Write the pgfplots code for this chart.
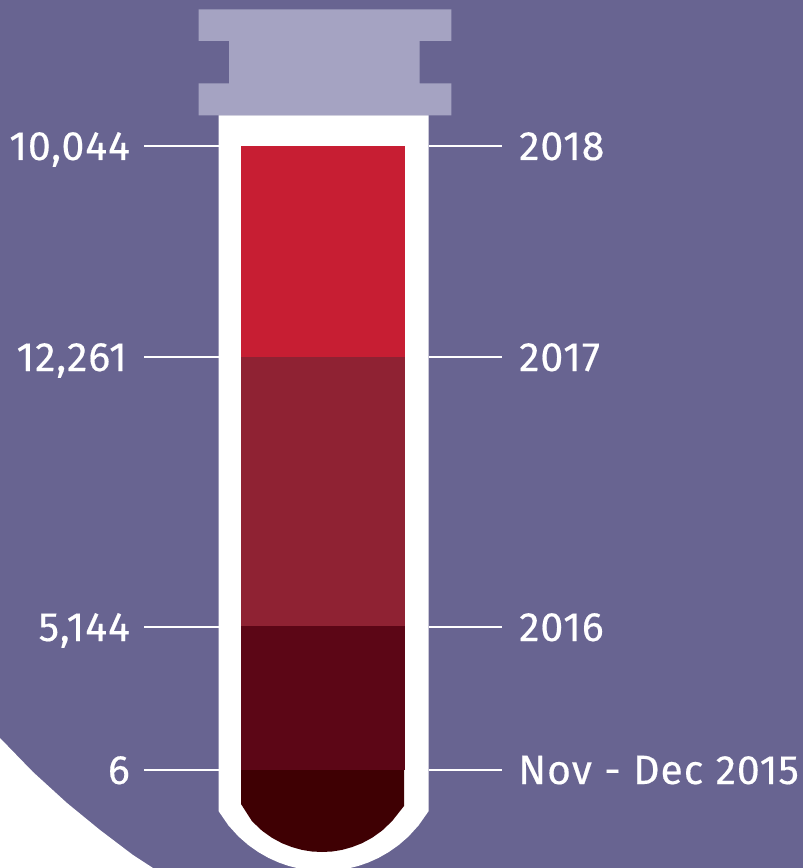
\documentclass[border=0pt]{standalone}
\usepackage{fontspec}
\setmainfont[LetterSpace=2.2,WordSpace=1.05,FakeBold=0.35]{Fira Sans}
\usepackage{pgfplots}
\pgfplotsset{compat=1.18}
\definecolor{bgc}{HTML}{686491}
\definecolor{capc}{HTML}{A5A3C2}
\definecolor{a18}{HTML}{C71E33}
\definecolor{a17}{HTML}{8F2233}
\definecolor{a16}{HTML}{5C0616}
\definecolor{a15}{HTML}{3F0003}
\begin{document}
\begin{tikzpicture}
\begin{axis}[
  scale only axis, width=803bp, height=868bp,
  xmin=0, xmax=803, ymin=0, ymax=868, y dir=reverse,
  axis lines=none, clip=true,
  every axis plot/.append style={draw=none, line join=miter},
]
\addplot[fill=bgc] coordinates {(0,0)(803,0)(803,868)(0,868)} -- cycle;
\addplot[fill=white] coordinates {(0,738)(33,772)(67,803)(100,830)(133,855)(153,868)(0,868)} -- cycle;
% cap
\addplot[fill=capc] coordinates {(198.7,9.5)(451.3,9.5)(451.3,41)(419.5,41)(419.5,83.3)(451.3,83.3)(451.3,115.5)(198.7,115.5)(198.7,83.3)(229,83.3)(229,41)(198.7,41)} -- cycle;
% tube
\addplot[fill=white] coordinates {(218.5,115.5)(428.7,115.5)(428.7,811)(418.5,825.5)(408.5,836.5)(398.5,845.2)(388.5,852.2)(378.5,857.9)(368.5,862.4)(358.5,865.9)(348.5,868.4)(338.5,870)(323.5,871)(308.5,870)(298.5,868.4)(288.5,865.9)(278.5,862.4)(268.5,857.9)(258.5,852.2)(248.5,845.2)(238.5,836.5)(228.5,825.5)(218.5,811)} -- cycle;
% segments
\addplot[fill=a18] coordinates {(241,146)(405,146)(405,357)(241,357)} -- cycle;
\addplot[fill=a17] coordinates {(241,357)(405,357)(405,626)(241,626)} -- cycle;
\addplot[fill=a16] coordinates {(241,626)(405,626)(405,770)(241,770)} -- cycle;
\addplot[fill=a15] coordinates {(241,770)(404,770)(404,806)(392,821.2)(382,830.7)(372,837.8)(362,843.2)(352,847.1)(342,849.9)(332,851.5)(322,852)(312,851.5)(302,849.9)(292,847.1)(282,843.2)(272,837.8)(262,830.7)(252,821.2)(241,804)} -- cycle;
% leaders
\foreach \y in {146,357,627,770}{
  \edef\tmp{\noexpand\addplot[draw=white, line width=1.1bp] coordinates {(144,\y)(218.5,\y)};
    \noexpand\addplot[draw=white, line width=1.1bp] coordinates {(428.7,\y)(502,\y)};}
  \tmp
}
\tikzset{lab/.style={text=white, font=\fontsize{41bp}{41bp}\selectfont, inner sep=0pt}}
\node[lab, anchor=base east] at (axis cs:130,160) {10,044};
\node[lab, anchor=base east] at (axis cs:127,371) {12,261};
\node[lab, anchor=base east] at (axis cs:130,641) {5,144};
\node[lab, anchor=base east] at (axis cs:130,784) {6};
\node[lab, anchor=base west] at (axis cs:519,160) {2018};
\node[lab, anchor=base west] at (axis cs:519,371) {2017};
\node[lab, anchor=base west] at (axis cs:519,641) {2016};
\node[lab, anchor=base west] at (axis cs:518,784) {Nov - Dec 2015};
\end{axis}
\end{tikzpicture}
\end{document}
